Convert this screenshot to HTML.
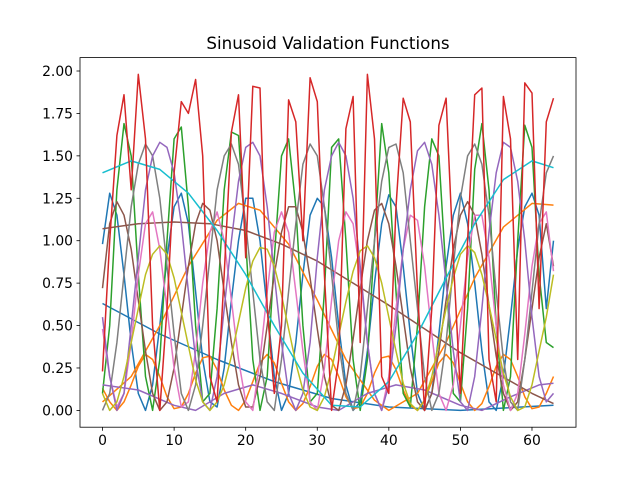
<!DOCTYPE html>
<html><head><meta charset="utf-8"><style>
body{margin:0;background:#fff;}
svg{display:block;font-family:"DejaVu Sans","Liberation Sans",sans-serif;}
</style></head><body>
<svg id="chart" width="640" height="480" viewBox="0 0 640 480">
<rect width="640" height="480" fill="#fff"/>
<text x="328" y="49" text-anchor="middle" font-size="16.7">Sinusoid Validation Functions</text>
<g id="plot"></g>
<g id="axes"></g>
</svg>
<script>
const xTicks=[0,10,20,30,40,50,60];
const yTicks=[0,0.25,0.5,0.75,1,1.25,1.5,1.75,2];
const yTickLabels=["0.00","0.25","0.50","0.75","1.00","1.25","1.50","1.75","2.00"];
const redValues=[0.23,1.0,1.62,1.86,1.3,1.98,1.6,0.5,0.0,0.6,1.4,1.82,1.75,1.95,1.5,0.2,0.05,0.8,1.64,1.86,0.9,1.91,1.9,0.6,0.1,0.5,1.83,1.7,1.0,1.96,1.82,0.8,0.0,0.3,1.66,1.85,0.4,1.98,1.6,0.2,0.1,1.2,1.84,1.7,0.7,0.0,0.6,1.68,1.84,0.9,0.1,1.0,1.86,1.9,0.3,0.05,1.85,1.6,0.3,1.93,1.87,0.6,1.7,1.84];
const greenValues=[0.1,0.5,1.3,1.69,1.5,0.8,0.2,0.0,0.3,1.0,1.6,1.67,1.2,0.5,0.05,0.1,0.6,1.3,1.64,1.62,1.0,0.3,0.0,0.2,0.9,1.5,1.6,1.2,0.5,0.05,0.1,0.7,1.55,1.6,1.0,0.3,0.0,0.3,1.0,1.69,1.4,0.7,0.1,0.02,0.5,1.2,1.6,1.5,0.8,0.1,0.05,0.6,1.42,1.69,1.3,0.5,0.0,0.2,1.0,1.68,1.55,0.8,0.4,0.37];
const purpleValues=[0.55,0.2,0.0,0.1,0.5,0.9,1.3,1.5,1.58,1.55,1.4,1.1,0.7,0.3,0.05,0.0,0.2,0.6,1.0,1.35,1.55,1.58,1.5,1.2,0.8,0.4,0.1,0.0,0.1,0.4,0.9,1.3,1.5,1.58,1.5,1.25,0.85,0.4,0.1,0.0,0.15,0.5,0.95,1.3,1.53,1.58,1.45,1.15,0.75,0.35,0.05,0.0,0.2,0.6,1.05,1.4,1.58,1.55,1.35,1.0,0.55,0.2,0.05,0.1];
const grayValues=[0.0,0.1,0.4,0.8,1.2,1.45,1.57,1.5,1.25,0.85,0.45,0.1,0.0,0.15,0.5,0.9,1.3,1.5,1.57,1.45,1.1,0.7,0.3,0.05,0.0,0.3,0.7,1.1,1.45,1.57,1.5,1.2,0.8,0.4,0.1,0.0,0.2,0.6,1.0,1.35,1.55,1.57,1.4,1.0,0.6,0.2,0.0,0.1,0.4,0.85,1.25,1.5,1.57,1.45,1.15,0.7,0.3,0.05,0.0,0.3,0.7,1.1,1.4,1.5];
const blueFastValues=[0.98,1.28,1.15,0.8,0.4,0.1,0.0,0.15,0.5,0.9,1.2,1.28,1.1,0.7,0.3,0.05,0.02,0.25,0.65,1.0,1.25,1.25,1.0,0.6,0.2,0.0,0.1,0.4,0.8,1.15,1.25,1.2,0.9,0.5,0.15,0.0,0.05,0.35,0.75,1.1,1.27,1.2,0.85,0.45,0.1,0.0,0.1,0.45,0.85,1.15,1.28,1.1,0.75,0.35,0.05,0.0,0.2,0.55,0.95,1.2,1.28,1.15,0.6,1.0];
const pinkValues=[0.48,0.2,0.02,0.1,0.4,0.8,1.1,1.17,0.95,0.6,0.25,0.02,0.05,0.35,0.75,1.05,1.17,1.0,0.65,0.3,0.05,0.0,0.3,0.7,1.05,1.17,1.05,0.7,0.35,0.05,0.0,0.25,0.65,1.0,1.17,1.1,0.8,0.4,0.1,0.0,0.2,0.6,0.95,1.15,1.12,0.85,0.45,0.1,0.0,0.15,0.5,0.9,1.15,1.15,0.9,0.5,0.15,0.0,0.1,0.45,0.85,1.1,1.17,0.82];
const oliveValues=[0.1,0.0,0.05,0.2,0.4,0.6,0.8,0.92,0.97,0.92,0.78,0.58,0.38,0.18,0.05,0.0,0.05,0.15,0.32,0.52,0.72,0.88,0.96,0.95,0.85,0.68,0.48,0.28,0.12,0.02,0.0,0.08,0.24,0.44,0.64,0.82,0.94,0.97,0.9,0.75,0.55,0.35,0.16,0.04,0.0,0.06,0.2,0.4,0.6,0.78,0.92,0.97,0.93,0.8,0.62,0.42,0.22,0.08,0.0,0.02,0.15,0.35,0.55,0.8];
const brownFastValues=[0.72,1.1,1.23,1.15,0.95,0.65,0.35,0.1,0.0,0.05,0.25,0.55,0.85,1.1,1.22,1.18,1.0,0.7,0.4,0.15,0.02,0.02,0.2,0.5,0.8,1.05,1.2,1.2,1.05,0.78,0.48,0.2,0.03,0.0,0.15,0.42,0.72,1.0,1.18,1.22,1.1,0.85,0.55,0.25,0.05,0.0,0.1,0.35,0.65,0.95,1.15,1.23,1.15,0.92,0.62,0.32,0.1,0.0,0.05,0.3,0.6,0.9,1.1,0.85];
const orangeSmallValues=[0.13,0.05,0.0,0.05,0.15,0.26,0.33,0.3,0.2,0.08,0.01,0.02,0.1,0.22,0.31,0.32,0.24,0.12,0.03,0.0,0.06,0.17,0.28,0.33,0.28,0.16,0.05,0.0,0.04,0.14,0.26,0.33,0.3,0.2,0.08,0.01,0.02,0.1,0.22,0.31,0.32,0.24,0.12,0.03,0.0,0.06,0.17,0.28,0.33,0.28,0.16,0.05,0.0,0.04,0.14,0.26,0.33,0.3,0.2,0.08,0.01,0.02,0.1,0.2];
const cyanX=[0,4,8,12,16,20,24,28,32,36,40,44,48,52,56,60,63];
const cyanValues=[1.40,1.47,1.42,1.28,1.06,0.80,0.50,0.22,0.03,0.02,0.17,0.45,0.78,1.10,1.36,1.47,1.43];
const brownSlowX=[0,5,10,15,20,25,30,35,40,45,50,55,60,63];
const brownSlowValues=[1.07,1.10,1.11,1.10,1.06,0.98,0.88,0.75,0.62,0.48,0.34,0.22,0.10,0.04];
const blueSlowX=[0,8,16,24,32,40,50,63];
const blueSlowValues=[0.63,0.45,0.30,0.17,0.07,0.02,0.0,0.03];
const orangeSlowX=[0,4,8,12,16,19,22,26,30,34,38,40,44,48,52,56,60,63];
const orangeSlowValues=[0.05,0.2,0.5,0.85,1.12,1.22,1.18,0.98,0.65,0.3,0.06,0.0,0.1,0.4,0.78,1.08,1.22,1.21];
const purpleSlowX=[0,5,10,13,17,21,25,30,33,37,41,45,50,53,57,61,63];
const purpleSlowValues=[0.15,0.12,0.03,0.0,0.1,0.15,0.1,0.02,0.0,0.1,0.15,0.12,0.03,0.0,0.08,0.15,0.16];

const L=80,R=576,T=57.6,B=427.2,XMIN=-3.15,XMAX=66.15,YMIN=-0.099,YMAX=2.079;
const xs=v=>L+(v-XMIN)/(XMAX-XMIN)*(R-L);
const ys=v=>B-(v-YMIN)/(YMAX-YMIN)*(B-T);
const NS="http://www.w3.org/2000/svg";
const plot=document.getElementById('plot'),axes=document.getElementById('axes');
const idx=a=>a.map((_,i)=>i);
const series=[
 ['blue-slow-line','#1f77b4',blueSlowX,blueSlowValues],
 ['blue-fast-line','#1f77b4',idx(blueFastValues),blueFastValues],
 ['orange-slow-line','#ff7f0e',orangeSlowX,orangeSlowValues],
 ['orange-small-line','#ff7f0e',idx(orangeSmallValues),orangeSmallValues],
 ['green-line','#2ca02c',idx(greenValues),greenValues],
 ['purple-slow-line','#9467bd',purpleSlowX,purpleSlowValues],
 ['brown-slow-line','#8c564b',brownSlowX,brownSlowValues],
 ['brown-fast-line','#8c564b',idx(brownFastValues),brownFastValues],
 ['pink-line','#e377c2',idx(pinkValues),pinkValues],
 ['gray-line','#7f7f7f',idx(grayValues),grayValues],
 ['purple-line','#9467bd',idx(purpleValues),purpleValues],
 ['olive-line','#bcbd22',idx(oliveValues),oliveValues],
 ['cyan-line','#17becf',cyanX,cyanValues],
 ['red-line','#d62728',idx(redValues),redValues]
];
const clip=document.createElementNS(NS,'clipPath');clip.setAttribute('id','cp');
const cr=document.createElementNS(NS,'rect');cr.setAttribute('x',L);cr.setAttribute('y',T);cr.setAttribute('width',R-L);cr.setAttribute('height',B-T);
clip.appendChild(cr);document.getElementById('chart').appendChild(clip);
plot.setAttribute('clip-path','url(#cp)');
for(const [name,col,xa,ya] of series){
 const p=document.createElementNS(NS,'path');
 p.setAttribute('d',ya.map((v,i)=>(i?'L':'M')+xs(xa[i]).toFixed(1)+','+ys(v).toFixed(1)).join(''));
 p.setAttribute('fill','none');p.setAttribute('stroke',col);p.setAttribute('stroke-width','1.5');p.setAttribute('stroke-linejoin','round');
 
 
 plot.appendChild(p);
}
const frame=document.createElementNS(NS,'rect');
frame.setAttribute('x',L);frame.setAttribute('y',T);frame.setAttribute('width',R-L);frame.setAttribute('height',B-T);
frame.setAttribute('fill','none');frame.setAttribute('stroke','#000');frame.setAttribute('stroke-width','0.8');


axes.appendChild(frame);
xTicks.forEach(t=>{
 const x=xs(t);
 const l=document.createElementNS(NS,'line');
 l.setAttribute('x1',x);l.setAttribute('x2',x);l.setAttribute('y1',B);l.setAttribute('y2',B+3.5);l.setAttribute('stroke','#000');l.setAttribute('stroke-width','0.8');
 
 
 axes.appendChild(l);
 const tx=document.createElementNS(NS,'text');
 tx.setAttribute('x',x);tx.setAttribute('y',B+18);tx.setAttribute('text-anchor','middle');tx.setAttribute('font-size','13.9');
 tx.textContent=String(t);
 
 
 axes.appendChild(tx);
});
yTicks.forEach((t,i)=>{
 const y=ys(t);
 const l=document.createElementNS(NS,'line');
 l.setAttribute('x1',L-3.5);l.setAttribute('x2',L);l.setAttribute('y1',y);l.setAttribute('y2',y);l.setAttribute('stroke','#000');l.setAttribute('stroke-width','0.8');
 
 
 axes.appendChild(l);
 const tx=document.createElementNS(NS,'text');
 tx.setAttribute('x',L-7);tx.setAttribute('y',y+5);tx.setAttribute('text-anchor','end');tx.setAttribute('font-size','13.9');
 tx.textContent=yTickLabels[i];
 
 
 axes.appendChild(tx);
});
</script>
</body></html>
